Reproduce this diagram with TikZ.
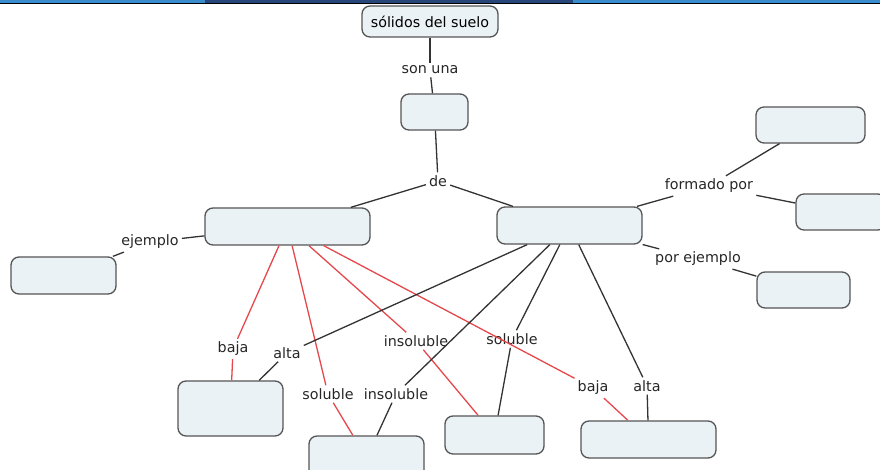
\documentclass[tikz,border=0pt]{standalone}
\usepackage{fontspec}
\setmainfont{DejaVu Sans}
\usepackage{tikz}

\definecolor{barblue}{HTML}{3A8DCC}
\definecolor{barnavy}{HTML}{27477A}
\definecolor{boxfill}{HTML}{EBF2F5}
\definecolor{boxline}{HTML}{555555}
\definecolor{linkgray}{HTML}{333333}
\definecolor{linkred}{HTML}{E5484C}

\begin{document}
\begin{tikzpicture}[x=1pt, y=-1pt,
	concept/.style={draw=boxline, fill=boxfill, line width=1.3pt, rounded corners=8pt, inner sep=0pt},
	phrase/.style={inner sep=3pt, text=black!85, font=\fontsize{14.3}{17}\selectfont},
	link/.style={draw=linkgray, line width=1.3pt},
	redlink/.style={draw=linkred, line width=1.3pt}]
	\useasboundingbox (0,0) rectangle (880,470);
	\clip (0,0) rectangle (880,470);
	\fill[color=barblue] (0,0) rectangle (880,3);
	\fill[color=barnavy] (205,0) rectangle (573,3);
	\fill[color=black] (0,3) rectangle (880,4.5);

	\node[concept, minimum width=136, minimum height=31, font=\fontsize{14.3}{17}\selectfont] (suelo) at (430,21.5) {sólidos del suelo};
	\node[concept, minimum width=67, minimum height=36] (mezcla) at (434.5,112) {};
	\node[concept, minimum width=165, minimum height=37] (organic) at (287.5,226.5) {};
	\node[concept, minimum width=145, minimum height=37] (mineral) at (569.5,225.5) {};
	\node[concept, minimum width=109, minimum height=36] (formA) at (810.5,125) {};
	\node[concept, minimum width=90, minimum height=36] (formB) at (841,212) {};
	\node[concept, minimum width=93, minimum height=36] (ejemB) at (803.5,290) {};
	\node[concept, minimum width=105, minimum height=37] (ejemA) at (63.5,275.5) {};
	\node[concept, minimum width=105, minimum height=55] (bot1) at (230.5,408.5) {};
	\node[concept, minimum width=115, minimum height=44] (bot2) at (366.5,458) {};
	\node[concept, minimum width=99, minimum height=38] (bot3) at (494.5,435) {};
	\node[concept, minimum width=135, minimum height=37] (bot4) at (648.5,439.5) {};

	\node[phrase] (sonuna) at (430,70) {son una};
	\node[phrase] (de) at (438,181) {de};
	\node[phrase] (formado) at (709,186) {formado por};
	\node[phrase] (porej) at (698,259) {por ejemplo};
	\node[phrase] (ejemplo) at (150,242) {ejemplo};
	\node[phrase] (bajaA) at (233,349) {baja};
	\node[phrase] (altaA) at (287,353) {alta};
	\node[phrase] (solA) at (328,394) {soluble};
	\node[phrase] (insolA) at (396,394) {insoluble};
	\node[phrase] (insolB) at (416,341) {insoluble};
	\node[phrase] (solB) at (512,339) {soluble};
	\node[phrase] (bajaB) at (593,388) {baja};
	\node[phrase] (altaB) at (647,386) {alta};

	\draw[link] (suelo) -- (sonuna);
	\draw[link] (sonuna) -- (mezcla);
	\draw[link] (mezcla) -- (de);
	\draw[link] (de) -- (organic);
	\draw[link] (de) -- (mineral);
	\draw[link] (mineral) -- (formado);
	\draw[link] (formado) -- (formA);
	\draw[link] (formado) -- (formB);
	\draw[link] (mineral) -- (porej);
	\draw[link] (porej) -- (ejemB);
	\draw[link] (organic) -- (ejemplo);
	\draw[link] (ejemplo) -- (ejemA);

	\draw[redlink] (organic) -- (bajaA);
	\draw[redlink] (bajaA) -- (bot1);
	\draw[redlink] (organic) -- (solA);
	\draw[redlink] (solA) -- (bot2);
	\draw[redlink] (organic) -- (insolB);
	\draw[redlink] (insolB) -- (bot3);
	\draw[redlink] (organic) -- (bajaB);
	\draw[redlink] (bajaB) -- (bot4);

	\draw[link] (mineral) -- (altaA);
	\draw[link] (altaA) -- (bot1);
	\draw[link] (mineral) -- (insolA);
	\draw[link] (insolA) -- (bot2);
	\draw[link] (mineral) -- (solB);
	\draw[link] (solB) -- (bot3);
	\draw[link] (mineral) -- (altaB);
	\draw[link] (altaB) -- (bot4);
\end{tikzpicture}
\end{document}
